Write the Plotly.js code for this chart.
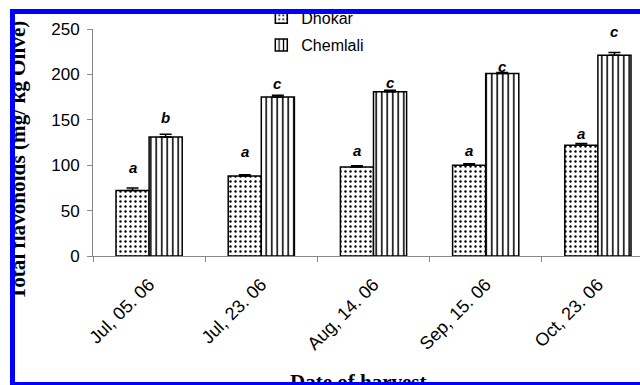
<!DOCTYPE html>
<html>
<head>
<meta charset="utf-8">
<script src="https://cdn.plot.ly/plotly-3.0.1.min.js"></script>
<style>
html,body{margin:0;padding:0;width:640px;height:385px;overflow:hidden;background:#fff;}
#wrap{position:relative;width:640px;height:385px;overflow:hidden;}
#chart{position:absolute;left:0;top:0;width:680px;height:385px;}
.cov{position:absolute;z-index:10;}
</style>
</head>
<body>
<div id="wrap">
<div id="chart"></div>
<div class="cov" style="left:0;top:0;width:640px;height:9px;background:#fff"></div>
<div class="cov" style="left:0;top:0;width:10px;height:385px;background:#fff"></div>
<div class="cov" style="left:10px;top:9px;width:630px;height:5px;background:#0000ff"></div>
<div class="cov" style="left:10px;top:9px;width:5px;height:376px;background:#0000ff"></div>
<div class="cov" style="left:10px;top:382px;width:630px;height:3px;background:#0000ff"></div>
</div>
<script>
const dates = ["Jul, 05. 06", "Jul, 23. 06", "Aug, 14. 06", "Sep, 15. 06", "Oct, 23. 06"];
const dhokar = [72, 88, 98, 100, 122];
const chemlali = [131, 175, 181, 201, 221];
const dhokarErr = [3, 1.5, 1.5, 1.5, 2];
const chemlaliErr = [3, 2, 1.5, 1, 3];
const dhokarLetters = ["a", "a", "a", "a", "a"];
const chemlaliLetters = ["b", "c", "c", "c", "c"];
const dhokarLetterY = [98, 115, 116, 116, 135];
const chemlaliLetterY = [153, 190, 191, 209, 247];

const traces = [
  {
    type: "bar", name: "Dhokar", x: dates, y: dhokar, legendgroup: "d",
    marker: {color: "#fff", line: {color: "#000", width: 1.5},
      pattern: {shape: ".", size: 5, solidity: 0.18, fgcolor: "#000", bgcolor: "#fff"}},
    error_y: {type: "data", symmetric: false, array: dhokarErr, arrayminus: dhokarErr.map(() => 0),
      color: "#000", thickness: 1.5, width: 6}
  },
  {
    type: "bar", name: "Chemlali", x: dates, y: chemlali, legendgroup: "c",
    marker: {color: "#fff", line: {color: "#000", width: 1.5},
      pattern: {shape: "|", size: 5.5, solidity: 0.28, fgcolor: "#000", bgcolor: "#fff"}},
    error_y: {type: "data", symmetric: false, array: chemlaliErr, arrayminus: chemlaliErr.map(() => 0),
      color: "#000", thickness: 1.5, width: 6}
  }
];

const annotations = [];
dates.forEach((d, i) => {
  annotations.push({x: d, y: dhokarLetterY[i], xref: "x", yref: "y", text: dhokarLetters[i],
    showarrow: false, xshift: -16.5, font: {family: "Arial", size: 15, color: "#000", style: "italic", weight: "bold"}});
  annotations.push({x: d, y: chemlaliLetterY[i], xref: "x", yref: "y", text: chemlaliLetters[i],
    showarrow: false, xshift: 16.5, font: {family: "Arial", size: 15, color: "#000", style: "italic", weight: "bold"}});
});
annotations.push({xref: "paper", yref: "paper", x: 0, xshift: -75, y: 0.4185, textangle: -90,
  text: "Total flavonoids (mg/ kg Olive)", showarrow: false, xanchor: "center", yanchor: "middle",
  font: {family: "Liberation Serif", size: 21.2, color: "#000", weight: "bold"}});
annotations.push({xref: "paper", yref: "paper", x: 0.473, y: 0, yshift: -112, xanchor: "center", yanchor: "top",
  text: "Date of harvest", showarrow: false,
  font: {family: "Liberation Serif", size: 21, color: "#000", weight: "bold"}});

const layout = {
  width: 680, height: 385,
  margin: {l: 93, r: 26, t: 29, b: 129, autoexpand: false},
  paper_bgcolor: "#fff", plot_bgcolor: "#fff",
  barmode: "group", bargap: 0.41, bargroupgap: 0,
  showlegend: true,
  legend: {x: 0.3, y: 1.126, xanchor: "left", yanchor: "top", bgcolor: "rgba(0,0,0,0)",
    font: {family: "Arial", size: 16, color: "#000"}, traceorder: "grouped", tracegroupgap: 4,
    itemwidth: 30},
  xaxis: {type: "category", tickson: "boundaries", ticks: "outside", ticklen: 5, tickcolor: "#888",
    showline: true, linecolor: "#888", linewidth: 1, showgrid: false, tickangle: -45,
    tickfont: {family: "Arial", size: 18, color: "#000"}, ticklabelstandoff: 10},
  yaxis: {range: [0, 250], tickvals: [0, 50, 100, 150, 200, 250], ticks: "outside", ticklen: 5,
    tickcolor: "#888", showline: true, linecolor: "#888", linewidth: 1, showgrid: false, zeroline: false,
    tickfont: {family: "Arial", size: 17, color: "#000"}, ticklabelstandoff: 4},
  annotations: annotations
};

Plotly.newPlot("chart", traces, layout, {displayModeBar: false, staticPlot: true});
</script>
</body>
</html>
